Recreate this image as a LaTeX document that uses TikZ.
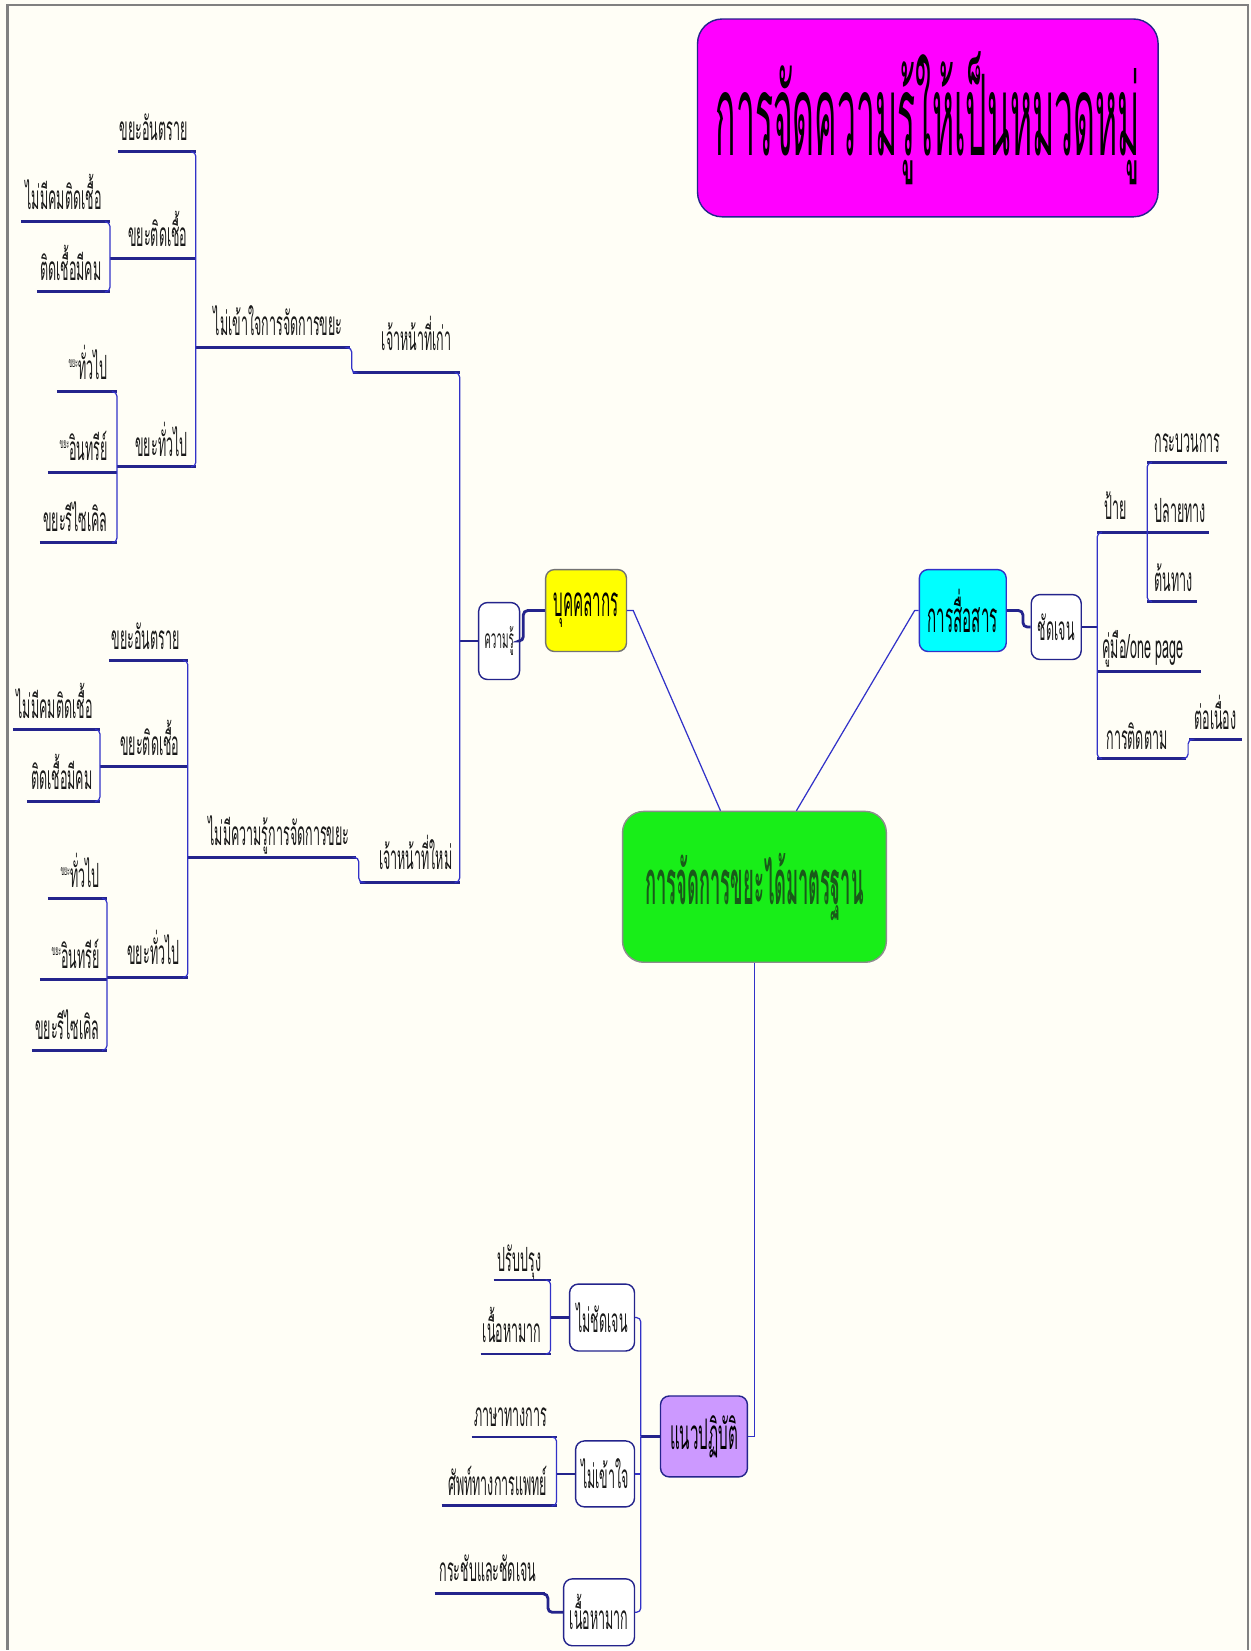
\documentclass[tikz,border=0pt]{standalone}
\usepackage{fontspec}
\setmainfont[Script=Thai,FakeStretch=0.375]{Loma}
\newfontfamily\bigthai[Script=Thai,FakeStretch=0.36]{Loma}
\newfontfamily\headthai[Script=Thai,FakeStretch=0.30]{Loma}
\usetikzlibrary{calc}
\definecolor{paper}{RGB}{255,254,246}
\definecolor{frame}{RGB}{128,128,128}
\definecolor{navy}{RGB}{36,36,140}
\definecolor{wire}{RGB}{50,50,200}
\definecolor{lilac}{RGB}{204,153,255}
\definecolor{pinkviolet}{RGB}{255,0,255}
\definecolor{aqua}{RGB}{0,255,255}
\definecolor{lemon}{RGB}{255,255,0}
\definecolor{leafgreen}{RGB}{24,238,24}
\definecolor{darkleaf}{RGB}{25,90,25}
\newcommand\tinykhaya{\raisebox{7pt}{\fontsize{8}{8}\selectfont ขยะ}}
\begin{document}
\begin{tikzpicture}[x=0.02cm, y=-0.02cm,
    ul/.style={draw=navy, line width=1.6pt},
    br/.style={draw=wire, line width=0.7pt, rounded corners=2.5pt},
    link/.style={draw=wire, line width=0.7pt},
    tl/.style={inner sep=0pt, font=\fontsize{19}{19}\selectfont, text=black!90},
    tle/.style={tl, anchor=base east},
    tlw/.style={tl, anchor=base west},
    box/.style={draw=navy, line width=0.8pt, rounded corners=5pt, inner sep=0pt,
      font=\fontsize{19}{19}\selectfont, text=black!90, fill=white},
    topic/.style={box, font=\bigthai\fontsize{24}{24}\selectfont, text=black}]

  % Fondo y marco
  \fill[paper] (0,0) rectangle (1251,1651);
  \draw[frame, line width=1.4pt] (7.5,1651) -- (7.5,5) -- (1249,5) -- (1249,1651);

  % Titulo
  \node[topic, fill=pinkviolet, rounded corners=14pt, minimum width=9.22cm, minimum height=3.96cm,
    font=\headthai\fontsize{64}{64}\selectfont] (title) at (928.5,118) {การจัดความรู้ให้เป็นหมวดหมู่};

  % Temas principales
  \node[topic, fill=leafgreen, draw=black!45, rounded corners=12pt, minimum width=5.28cm,
    minimum height=3.02cm, text=darkleaf, font=\headthai\bfseries\fontsize{35}{35}\selectfont] (grn) at (755,887.5) {การจัดการขยะได้มาตรฐาน};
  \node[topic, fill=lemon, draw=black!55, minimum width=1.62cm, minimum height=1.64cm] (yel) at (586.5,611) {บุคคลากร};
  \node[topic, fill=aqua, draw=wire, minimum width=1.74cm, minimum height=1.64cm] (cya) at (963.5,611) {การสื่อสาร};
  \node[topic, fill=lilac, minimum width=1.74cm, minimum height=1.62cm] (pur) at (704.5,1437.5) {แนวปฏิบัติ};

  \draw[link] (yel.east) -- ++(6,0) -- ($(grn.north)+(-34,0)$);
  \draw[link] (cya.west) -- ++(-4,0) -- ($(grn.north)+(42,0)$);
  \draw[link] (grn.south) |- (pur.east);

  % Rama bukkhalakon
  \node[box, minimum width=0.82cm, minimum height=1.54cm, font=\fontsize{15}{15}\selectfont] (kr) at (499.5,641.5) {ความรู้};
  \draw[ul, rounded corners=2.5pt] (kr.east) -- ++(3,0) |- (yel.west);

  \node[tle] (u1) at (452,351) {เจ้าหน้าที่เก่า};
  \draw[ul] (353,373) coordinate (u1w) -- (460,373) coordinate (u1e);
  \node[tle] (u2) at (343,336) {ไม่เข้าใจการจัดการขยะ};
  \draw[ul] (196,348) coordinate (u2w) -- (350,348) coordinate (u2e);
  \node[tle] (u3) at (188,141) {ขยะอันตราย};
  \draw[ul] (118,152) coordinate (u3w) -- (196,152) coordinate (u3e);
  \node[tle] (u4) at (188,247) {ขยะติดเชื้อ};
  \draw[ul] (110,259) coordinate (u4w) -- (196,259) coordinate (u4e);
  \node[tle] (u5) at (188,457) {ขยะทั่วไป};
  \draw[ul] (117,467) coordinate (u5w) -- (196,467) coordinate (u5e);
  \node[tle] (u6) at (102,210) {ไม่มีคมติดเชื้อ};
  \draw[ul] (21,222) coordinate (u6w) -- (110,222) coordinate (u6e);
  \node[tle] (u7) at (102,281) {ติดเชื้อมีคม};
  \draw[ul] (37,292) coordinate (u7w) -- (110,292) coordinate (u7e);
  \node[tle] (u8) at (108,380) {\tinykhaya ทั่วไป};
  \draw[ul] (57,392) coordinate (u8w) -- (117,392) coordinate (u8e);
  \node[tle] (u9) at (108,461) {\tinykhaya อินทรีย์};
  \draw[ul] (48,473) coordinate (u9w) -- (117,473) coordinate (u9e);
  \node[tle] (u10) at (108,532) {ขยะรีไซเคิล};
  \draw[ul] (40,543) coordinate (u10w) -- (117,543) coordinate (u10e);

  \node[tle] (l1) at (453,870) {เจ้าหน้าที่ใหม่};
  \draw[ul] (360,883) coordinate (l1w) -- (460,883) coordinate (l1e);
  \node[tle] (l2) at (350,846) {ไม่มีความรู้การจัดการขยะ};
  \draw[ul] (188,858) coordinate (l2w) -- (356,858) coordinate (l2e);
  \node[tle] (l3) at (180,650) {ขยะอันตราย};
  \draw[ul] (109,661) coordinate (l3w) -- (188,661) coordinate (l3e);
  \node[tle] (l4) at (180,756) {ขยะติดเชื้อ};
  \draw[ul] (100,767) coordinate (l4w) -- (188,767) coordinate (l4e);
  \node[tle] (l5) at (180,965) {ขยะทั่วไป};
  \draw[ul] (107,978) coordinate (l5w) -- (188,978) coordinate (l5e);
  \node[tle] (l6) at (93,719) {ไม่มีคมติดเชื้อ};
  \draw[ul] (13,730) coordinate (l6w) -- (100,730) coordinate (l6e);
  \node[tle] (l7) at (93,790) {ติดเชื้อมีคม};
  \draw[ul] (27,802) coordinate (l7w) -- (100,802) coordinate (l7e);
  \node[tle] (l8) at (100,888) {\tinykhaya ทั่วไป};
  \draw[ul] (48,899) coordinate (l8w) -- (107,899) coordinate (l8e);
  \node[tle] (l9) at (100,969) {\tinykhaya อินทรีย์};
  \draw[ul] (40,980) coordinate (l9w) -- (107,980) coordinate (l9e);
  \node[tle] (l10) at (100,1040) {ขยะรีไซเคิล};
  \draw[ul] (32,1051) coordinate (l10w) -- (107,1051) coordinate (l10e);

  % Corchetes
  \draw[ul] (kr.west) -- (kr.west -| u1e);
  \draw[br] ($(u1e)+(-5,0)$) -- (u1e) -- (l1e) -- ($(l1e)+(-5,0)$);
  \draw[br] (u2e) -| ($(u1w)+(-1,0)$) -- (u1w);
  \draw[br] (l2e) -| ($(l1w)+(-1,0)$) -- (l1w);
  \draw[br] ($(u3e)+(-5,0)$) -- (u3e) -- (u5e) -- ($(u5e)+(-5,0)$);
  \draw[br] ($(u6e)+(-5,0)$) -- (u6e) -- (u7e) -- ($(u7e)+(-5,0)$);
  \draw[br] ($(u8e)+(-5,0)$) -- (u8e) -- (u10e) -- ($(u10e)+(-5,0)$);
  \draw[br] ($(l3e)+(-5,0)$) -- (l3e) -- (l5e) -- ($(l5e)+(-5,0)$);
  \draw[br] ($(l6e)+(-5,0)$) -- (l6e) -- (l7e) -- ($(l7e)+(-5,0)$);
  \draw[br] ($(l8e)+(-5,0)$) -- (l8e) -- (l10e) -- ($(l10e)+(-5,0)$);

  % Rama comunicacion
  \node[box, minimum width=1.0cm, minimum height=1.3cm] (chd) at (1057,627.5) {ชัดเจน};
  \draw[ul, rounded corners=2.5pt] (cya.east) -- ++(16,0) |- (chd.west);

  \node[tlw] (r1) at (1105,520) {ป้าย};
  \draw[ul] (1098,533) coordinate (r1w) -- (1148,533) coordinate (r1e);
  \node[tlw] (r11) at (1155,453) {กระบวนการ};
  \draw[ul] (1148,463) coordinate (r11w) -- (1228,463) coordinate (r11e);
  \node[tlw] (r12) at (1155,523) {ปลายทาง};
  \draw[ul] (1148,533) coordinate (r12w) -- (1210,533) coordinate (r12e);
  \node[tlw] (r13) at (1155,592) {ต้นทาง};
  \draw[ul] (1148,602) coordinate (r13w) -- (1198,602) coordinate (r13e);
  \node[tlw] (r2) at (1103,659) {คู่มือ/one page};
  \draw[ul] (1098,672) coordinate (r2w) -- (1202,672) coordinate (r2e);
  \node[tlw] (r3) at (1107,750) {การติดตาม};
  \draw[ul] (1098,759) coordinate (r3w) -- (1187,759) coordinate (r3e);
  \node[tlw] (r31) at (1195,730) {ต่อเนื่อง};
  \draw[ul] (1190,740) coordinate (r31w) -- (1243,740) coordinate (r31e);

  \draw[ul] (chd.east) -- (chd.east -| r1w);
  \draw[br] ($(r1w)+(5,0)$) -- (r1w) -- (r3w) -- ($(r3w)+(5,0)$);
  \draw[br] ($(r11w)+(5,0)$) -- (r11w) -- (r13w) -- ($(r13w)+(5,0)$);
  \draw[br] (r3e) -| ($(r31w)+(-1,0)$) -- (r31w);

  % Rama lineamientos
  \node[box, minimum width=1.3cm, minimum height=1.34cm] (b1) at (602.5,1318.5) {ไม่ชัดเจน};
  \node[box, minimum width=1.18cm, minimum height=1.32cm] (b2) at (605.5,1475) {ไม่เข้าใจ};
  \node[box, minimum width=1.42cm, minimum height=1.34cm] (b3) at (599.5,1613.5) {เนื้อหามาก};
  \draw[ul] (pur.west) -- ++(-19,0) coordinate (bt);
  \draw[br] (b1.east) -| (bt);
  \draw[br] (b3.east) -| (bt);
  \draw[br] (b2.east) -- (b2.east -| bt);

  \node[tle] (p1) at (542,1272) {ปรับปรุง};
  \draw[ul] (494,1281) coordinate (p1w) -- (551,1281) coordinate (p1e);
  \node[tle] (p2) at (542,1343) {เนื้อหามาก};
  \draw[ul] (481,1355) coordinate (p2w) -- (551,1355) coordinate (p2e);
  \node[tle] (p3) at (548,1428) {ภาษาทางการ};
  \draw[ul] (472,1438) coordinate (p3w) -- (557,1438) coordinate (p3e);
  \node[tle] (p4) at (548,1497) {ศัพท์ทางการแพทย์};
  \draw[ul] (442,1507) coordinate (p4w) -- (557,1507) coordinate (p4e);
  \node[tle] (p5) at (537,1583) {กระชับและชัดเจน};
  \draw[ul] (435,1595) coordinate (p5w) -- (545,1595) coordinate (p5e);

  \draw[br] ($(p1e)+(-5,0)$) -- (p1e) -- (p2e) -- ($(p2e)+(-5,0)$);
  \draw[br] ($(p3e)+(-5,0)$) -- (p3e) -- (p4e) -- ($(p4e)+(-5,0)$);
  \draw[ul] (b1.west) -- (b1.west -| p1e);
  \draw[ul] (b2.west) -- (b2.west -| p3e);
  \draw[ul, rounded corners=2.5pt] (p5e) -| ($(b3.west)+(-15,0)$) -- (b3.west);
\end{tikzpicture}
\end{document}
